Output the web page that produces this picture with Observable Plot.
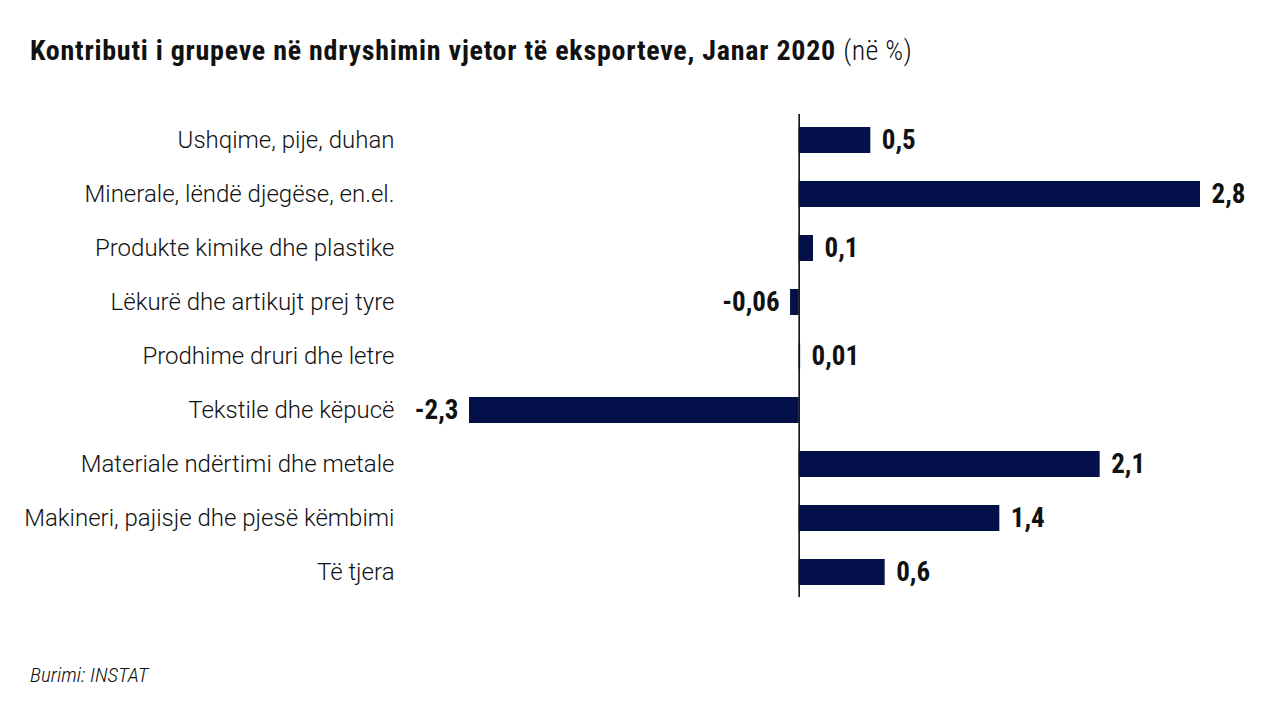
<!DOCTYPE html>
<html><head><meta charset="utf-8">
<script src="https://cdn.jsdelivr.net/npm/d3@7"></script>
<script src="https://cdn.jsdelivr.net/npm/@observablehq/plot@0.6"></script>
<style>
html,body{margin:0;padding:0;background:#fff;}
#wrap{position:relative;width:1280px;height:720px;overflow:hidden;}
#title{position:absolute;left:30px;top:34px;font-family:"Roboto Condensed",Roboto,sans-serif;font-size:28px;font-weight:bold;letter-spacing:0.75px;color:#111;white-space:nowrap;line-height:34px;}
#title span{font-weight:300;letter-spacing:0.3px;}
#source{position:absolute;left:30px;top:663px;font-family:"Roboto Condensed",Roboto,sans-serif;font-size:21px;font-style:italic;font-weight:300;color:#111;line-height:24px;}
#chart{position:absolute;left:0;top:0;}
</style></head><body>
<div id="wrap"><div id="chart"></div>
<div id="title">Kontributi i grupeve në ndryshimin vjetor të eksporteve, Janar 2020 <span>(në %)</span></div>
<div id="source">Burimi: INSTAT</div></div>
<script>
const categories = [
  "Ushqime, pije, duhan",
  "Minerale, lëndë djegëse, en.el.",
  "Produkte kimike dhe plastike",
  "Lëkurë dhe artikujt prej tyre",
  "Prodhime druri dhe letre",
  "Tekstile dhe këpucë",
  "Materiale ndërtimi dhe metale",
  "Makineri, pajisje dhe pjesë këmbimi",
  "Të tjera"
];
const values = [0.5, 2.8, 0.1, -0.06, 0.01, -2.3, 2.1, 1.4, 0.6];
const valueLabels = ["0,5", "2,8", "0,1", "-0,06", "0,01", "-2,3", "2,1", "1,4", "0,6"];

const data = categories.map((c, i) => ({category: c, value: values[i], label: valueLabels[i]}));

const chart = Plot.plot({
  width: 1280,
  height: 720,
  marginLeft: 469,
  marginRight: 80,
  marginTop: 112,
  marginBottom: 121,
  x: {domain: d3.extent(values), axis: null},
  y: {domain: categories, padding: 0, axis: null},
  style: {fontFamily: "Roboto, sans-serif", background: "transparent", color: "#1a1a1a"},
  marks: [
    Plot.axisY({tickSize: 0, tickPadding: 75, fontSize: 24, fontWeight: 300, label: null, fill: "#111"}),
    Plot.barX(data, {x: "value", y: "category", fill: "#03104a", insetTop: 14, insetBottom: 14}),
    Plot.ruleX([0], {stroke: "#111", strokeWidth: 1.6, insetTop: 2, insetBottom: 2}),
    Plot.text(data.filter(d => d.value >= 0), {x: "value", y: "category", text: "label", textAnchor: "start", dx: 11, fontFamily: "'Roboto Condensed', Roboto, sans-serif", fontWeight: "bold", fontSize: 27, fill: "#111"}),
    Plot.text(data.filter(d => d.value < 0), {x: "value", y: "category", text: "label", textAnchor: "end", dx: -11, fontFamily: "'Roboto Condensed', Roboto, sans-serif", fontWeight: "bold", fontSize: 27, fill: "#111"})
  ]
});
document.getElementById("chart").appendChild(chart);
</script>
</body></html>
